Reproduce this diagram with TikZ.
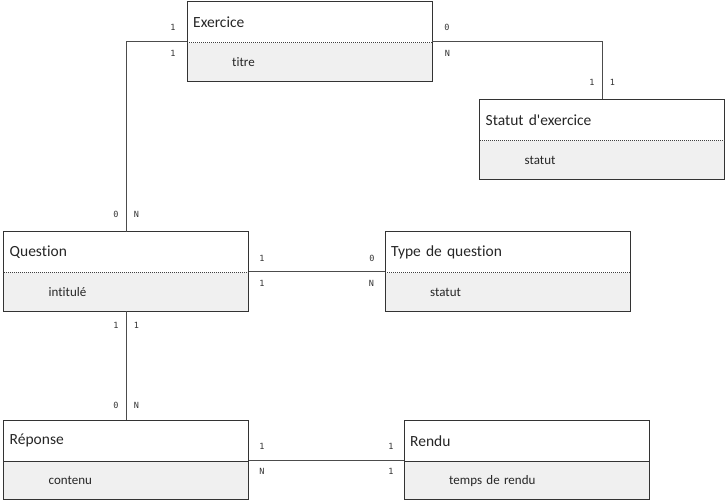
\documentclass[tikz,border=0pt]{standalone}
\usepackage{fontspec}
\usepackage{tikz}
\newfontfamily\carlito[Ligatures=NoCommon]{Carlito}
\newfontfamily\monocard{DejaVu Sans Mono}
\tikzset{
    tete/.style={anchor=north west, minimum width=245pt, minimum height=41pt, text width=233pt, inner xsep=6pt, inner ysep=0pt, align=left, text=black!85, font=\carlito\fontsize{15.5}{18}\selectfont}, % titre de l'entité
    corps/.style={anchor=north west, fill=gray!12, minimum width=245pt, minimum height=38pt, text width=155pt, inner xsep=45pt, inner ysep=0pt, align=left, text=black!85, font=\carlito\fontsize{13}{15}\selectfont}, % attributs
    cadre/.style={draw=black!80, line width=1pt}, % contour de l'entité
    pointille/.style={draw=black!75, line width=1pt, densely dotted}, % séparation pointillée
    plein/.style={draw=black!80, line width=1pt}, % séparation pleine
    lien/.style={draw=black!70, line width=1pt}, % association
    card/.style={inner sep=0pt, text=black!80, font=\monocard\fontsize{8.5}{10}\selectfont} % cardinalités
}
\begin{document}
\begin{tikzpicture}[x=1pt, y=-1pt]
    \useasboundingbox (0,0) rectangle (726,500);

    \foreach \n/\x/\y/\titre/\attr/\trait in {
        exo/187/1.5/Exercice/titre/pointille,
        statut/479.5/99.5/Statut d\textquotesingle exercice/statut/pointille,
        question/3.5/231.5/Question/intitulé/pointille,
        type/385/231.5/Type de question/statut/pointille,
        reponse/3.5/420/Réponse/contenu/plein,
        rendu/404/420/Rendu/temps de rendu/plein} {
        \node[tete] (\n) at (\x,\y) {\titre};
        \node[corps] (\n-a) at (\n.south west) {\attr};
        \draw[cadre] (\n.north west) rectangle (\n-a.south east);
        \draw[\trait] (\n.south west) -- (\n.south east);
    }

    \draw[lien] ([yshift=1.5pt]exo.south west) -| (question.north);
    \draw[lien] ([yshift=1.5pt]exo.south east) -| (statut.north);
    \draw[lien] ([yshift=1.5pt]question.south east) -- ([yshift=1.5pt]type.south west);
    \draw[lien] (question-a.south) -- (reponse.north);
    \draw[lien] ([yshift=1pt]reponse.south east) -- ([yshift=1pt]rendu.south west);

    \foreach \x/\y/\t [count=\i] in {
        173/27/1, 173/53.5/1, 447/27/0, 447.5/53.5/N,
        592/82.5/1, 612.5/82.5/1,
        116/214.5/0, 136.5/214.5/N,
        262/258/1, 262/283.5/1, 372/258/0, 371.5/283.5/N,
        116/325/1, 136.5/325/1,
        116/405/0, 136.5/405/N,
        262/446/1, 262/471.5/N, 391/446/1, 391/471.5/1} {
        \node[card] (c\i) at (\x,\y) {\t};
    }
\end{tikzpicture}
\end{document}
